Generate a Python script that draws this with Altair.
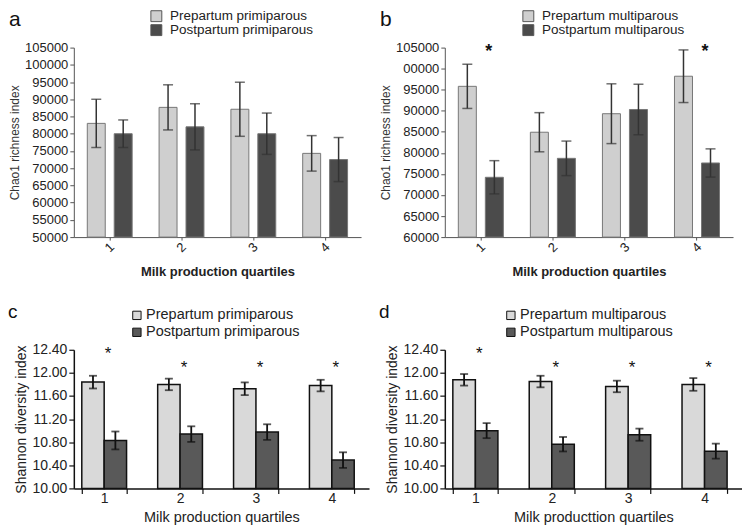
import altair as alt
import pandas as pd

FONT = "Liberation Sans"
quartiles = ["1", "2", "3", "4"]

# ---- Panel a: Chao1, primiparous ----
a_series = ["Prepartum primiparous", "Postpartum primiparous"]
a_pre_mean = [83000, 87650, 87100, 74300]
a_pre_sem = [7000, 6550, 7850, 5150]
a_post_mean = [80000, 82000, 80000, 72500]
a_post_sem = [4000, 6700, 6000, 6400]
a_ticks = [50000, 55000, 60000, 65000, 70000, 75000, 80000, 85000, 90000, 95000, 100000, 105000]

# ---- Panel b: Chao1, multiparous ----
b_series = ["Prepartum multiparous", "Postpartum multiparous"]
b_pre_mean = [95800, 84900, 89300, 98200]
b_pre_sem = [5250, 4650, 7100, 6250]
b_post_mean = [74200, 78700, 90300, 77600]
b_post_sem = [3950, 4100, 6000, 3350]
b_ticks = [60000, 65000, 70000, 75000, 80000, 85000, 90000, 95000, 100000, 105000]
b_star_q = ["1", "4"]
b_star_y = [105000, 105000]

# ---- Panel c: Shannon, primiparous ----
c_pre_mean = [11.84, 11.80, 11.725, 11.78]
c_pre_sem = [0.11, 0.10, 0.11, 0.10]
c_post_mean = [10.83, 10.94, 10.975, 10.49]
c_post_sem = [0.155, 0.135, 0.135, 0.135]

# ---- Panel d: Shannon, multiparous ----
d_pre_mean = [11.88, 11.85, 11.765, 11.80]
d_pre_sem = [0.10, 0.10, 0.10, 0.11]
d_post_mean = [11.00, 10.765, 10.93, 10.645]
d_post_sem = [0.13, 0.125, 0.105, 0.13]

cd_ticks = [10.0, 10.4, 10.8, 11.2, 11.6, 12.0, 12.4]
cd_star_q = ["1", "2", "3", "4"]
cd_star_y = [12.38, 12.13, 12.13, 12.13]


def make_df(series, pre_m, pre_s, post_m, post_s, base):
    rows = []
    for name, means, sems in [(series[0], pre_m, pre_s), (series[1], post_m, post_s)]:
        for q, m, s in zip(quartiles, means, sems):
            rows.append({"quartile": q, "series": name, "mean": m,
                         "lo": m - s, "hi": m + s, "base": base})
    return pd.DataFrame(rows)


def top_panel(df, series, ymin, ticks, letter, legend_x, width, height,
              stars=None, label_expr=None):
    x = alt.X("quartile:N", sort=quartiles,
              scale=alt.Scale(paddingInner=0.375, paddingOuter=0.1875),
              axis=alt.Axis(title="Milk production quartiles", titleFontWeight="bold",
                            titleFontSize=13, titleFont=FONT, titleColor="#222",
                            labelAngle=315, labelAlign="center", labelBaseline="middle",
                            labelPadding=7, labelFontSize=13, labelFont=FONT, labelColor="#222",
                            tickSize=3, tickColor="#555", domainColor="#555",
                            titlePadding=11))
    xo = alt.XOffset("series:N", sort=series,
                     scale=alt.Scale(domain=series, paddingInner=1 / 3, paddingOuter=0))
    yaxis_kw = dict(values=ticks, format="d", title="Chao1 richness index",
                    titleFontSize=12, titleFont=FONT, titleFontWeight="normal",
                    titleColor="#333", titlePadding=3,
                    labelFontSize=13, labelFont=FONT, labelColor="#222",
                    labelPadding=2, tickSize=4, tickColor="#555", domainColor="#555",
                    grid=False)
    if label_expr:
        yaxis_kw["labelExpr"] = label_expr
    yaxis = alt.Axis(**yaxis_kw)
    yscale = alt.Scale(domain=[ymin, ticks[-1]], zero=False, nice=False)

    def Y(field):
        return alt.Y(field, type="quantitative", scale=yscale, axis=yaxis)

    color = alt.Color("series:N", sort=series,
                      scale=alt.Scale(domain=series, range=["#cfcfcf", "#4b4b4b"]),
                      legend=alt.Legend(title=None, orient="none", legendX=legend_x,
                                        legendY=-38, direction="vertical",
                                        symbolType="square", symbolSize=120,
                                        symbolStrokeColor="#555", symbolStrokeWidth=1,
                                        labelFontSize=13.5, labelFont=FONT, labelColor="#222",
                                        labelOffset=7, rowPadding=0, clipHeight=13,
                                        padding=0))
    base = alt.Chart(df)
    bars = base.mark_bar(stroke="#777", strokeWidth=1).encode(
        x=x, xOffset=xo, y=Y("mean"), y2="base:Q", color=color)
    rules = base.mark_rule(color="#333", strokeWidth=1.5).encode(
        x=x, xOffset=xo, y=Y("lo"), y2="hi:Q")
    cap_hi = base.mark_tick(color="#333", size=10, thickness=1.5).encode(
        x=x, xOffset=xo, y=Y("hi"))
    cap_lo = base.mark_tick(color="#333", size=10, thickness=1.5).encode(
        x=x, xOffset=xo, y=Y("lo"))
    layers = [bars, rules, cap_hi, cap_lo]
    if stars is not None:
        st = alt.Chart(stars).mark_text(text="*", fontSize=18, font=FONT, fontWeight="bold",
                                        dx=8, dy=4, color="#111").encode(
            x=alt.X("quartile:N", sort=quartiles), y=Y("y"))
        layers.append(st)
    return alt.layer(*layers).properties(
        width=width, height=height,
        title=alt.TitleParams(letter, anchor="start", frame="group", dx=-65, dy=20,
                              fontSize=21, font=FONT, fontWeight="normal",
                              color="#111", offset=0))


def bottom_panel(df, series, letter, legend_x, width, height, stars, xtitle):
    x = alt.X("quartile:N", sort=quartiles,
              scale=alt.Scale(paddingInner=0.41, paddingOuter=0.15, align=0.35),
              axis=alt.Axis(title=xtitle, titleFontWeight="normal",
                            titleFontSize=14.5, titleFont=FONT, titleColor="#222",
                            labelAngle=0, labelFontSize=14, labelFont=FONT,
                            labelColor="#222", labelPadding=-2,
                            tickBand="extent", tickSize=5, tickColor="#111",
                            tickWidth=1.2, domainColor="#111", domainWidth=1.5,
                            titlePadding=5))
    xo = alt.XOffset("series:N", sort=series,
                     scale=alt.Scale(domain=series, paddingInner=0, paddingOuter=0))
    yaxis = alt.Axis(values=cd_ticks, format=".2f", title="Shannon diversity index",
                     titleFontSize=14, titleFont=FONT, titleFontWeight="normal",
                     titleColor="#222", titlePadding=3,
                     labelFontSize=14, labelFont=FONT, labelColor="#222",
                     labelPadding=2, tickSize=5, tickColor="#111", tickWidth=1.2,
                     domainColor="#111", domainWidth=1.5, grid=False)
    yscale = alt.Scale(domain=[10.0, 12.4], zero=False, nice=False)

    def Y(field):
        return alt.Y(field, type="quantitative", scale=yscale, axis=yaxis)

    color = alt.Color("series:N", sort=series,
                      scale=alt.Scale(domain=series, range=["#d9d9d9", "#595959"]),
                      legend=alt.Legend(title=None, orient="none", legendX=legend_x,
                                        legendY=-43, direction="vertical",
                                        symbolType="square", symbolSize=70,
                                        symbolStrokeColor="#111", symbolStrokeWidth=1,
                                        labelFontSize=14.5, labelFont=FONT, labelColor="#222",
                                        labelOffset=2, rowPadding=0, clipHeight=17,
                                        padding=0))
    base = alt.Chart(df)
    bars = base.mark_bar(stroke="#111", strokeWidth=1.5).encode(
        x=x, xOffset=xo, y=Y("mean"), y2="base:Q", color=color)
    rules = base.mark_rule(color="#111", strokeWidth=1.8).encode(
        x=x, xOffset=xo, y=Y("lo"), y2="hi:Q")
    cap_hi = base.mark_tick(color="#111", size=8, thickness=1.8).encode(
        x=x, xOffset=xo, y=Y("hi"))
    cap_lo = base.mark_tick(color="#111", size=8, thickness=1.8).encode(
        x=x, xOffset=xo, y=Y("lo"))
    st = alt.Chart(stars).mark_text(text="*", fontSize=17, font=FONT,
                                    dx=4, dy=3, color="#111").encode(
        x=alt.X("quartile:N", sort=quartiles), y=Y("y"))
    return alt.layer(bars, rules, cap_hi, cap_lo, st).properties(
        width=width, height=height,
        title=alt.TitleParams(letter, anchor="start", frame="group", dx=-66, dy=15,
                              fontSize=19, font=FONT, fontWeight="normal",
                              color="#111", offset=0))


df_a = make_df(a_series, a_pre_mean, a_pre_sem, a_post_mean, a_post_sem, 50000)
df_b = make_df(b_series, b_pre_mean, b_pre_sem, b_post_mean, b_post_sem, 60000)
df_c = make_df(a_series, c_pre_mean, c_pre_sem, c_post_mean, c_post_sem, 10.0)
df_d = make_df(b_series, d_pre_mean, d_pre_sem, d_post_mean, d_post_sem, 10.0)

stars_b = pd.DataFrame({"quartile": b_star_q, "y": b_star_y})
stars_cd = pd.DataFrame({"quartile": cd_star_q, "y": cd_star_y})

pa = top_panel(df_a, a_series, 50000, a_ticks, "a", 76, 288, 190)
pb = top_panel(df_b, b_series, 60000, b_ticks, "b", 77, 289, 190, stars=stars_b,
               label_expr="datum.value == 100000 ? '00000' : format(datum.value, 'd')")
pc = bottom_panel(df_c, a_series, "c", 56, 296, 139, stars_cd, "Milk production quartiles")
pd_ = bottom_panel(df_d, b_series, "d", 59, 298, 139, stars_cd, "Milk producttion quartiles")

res = dict(color="independent", x="independent", y="independent", xOffset="independent")
chart = alt.concat(pa, pb, pc, pd_, columns=2, spacing={"row": 113, "column": 76},
                   bounds="flush", align="each").resolve_scale(**res).properties(
    padding=0, background="white"
).configure_view(stroke=None)

chart.save("out.html", embed_options={"renderer": "svg", "actions": False})
